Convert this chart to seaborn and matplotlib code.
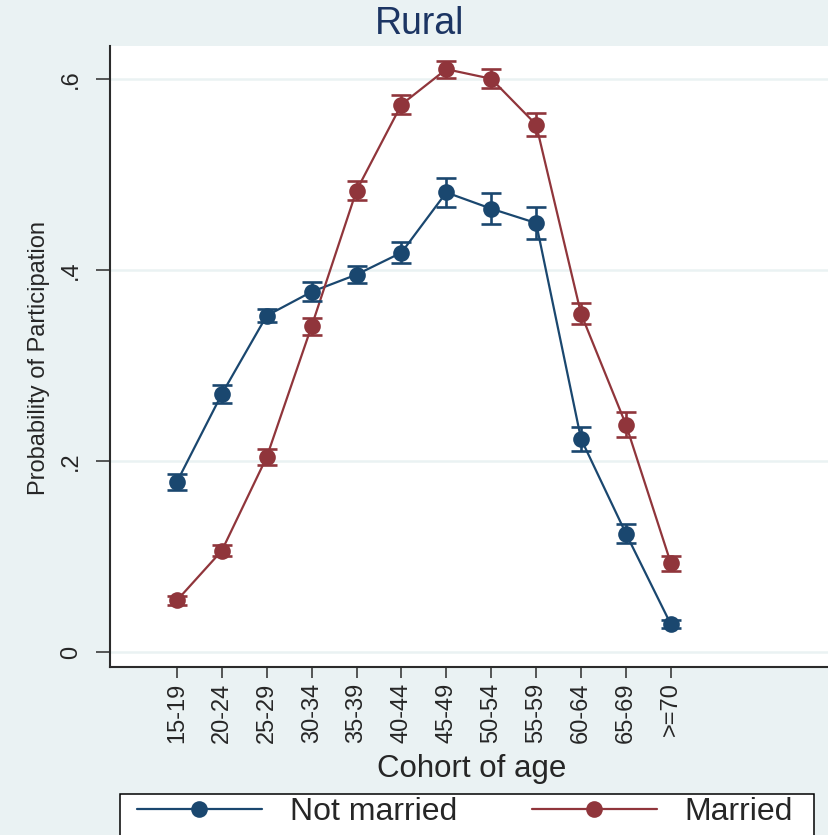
import matplotlib
matplotlib.use("Agg")
import matplotlib.pyplot as plt
from matplotlib.lines import Line2D
from matplotlib.patches import Rectangle
import numpy as np
import pandas as pd
import seaborn as sns

# ---- data -------------------------------------------------------------
cohorts = ["15-19", "20-24", "25-29", "30-34", "35-39", "40-44",
           "45-49", "50-54", "55-59", "60-64", "65-69", ">=70"]
groups = ["Not married", "Married"]

not_married = [0.178, 0.270, 0.352, 0.377, 0.395, 0.418,
               0.481, 0.464, 0.449, 0.223, 0.124, 0.029]
not_married_ci = [0.008, 0.009, 0.007, 0.010, 0.009, 0.011,
                  0.015, 0.016, 0.017, 0.013, 0.010, 0.004]

married = [0.054, 0.106, 0.204, 0.341, 0.483, 0.573,
           0.610, 0.600, 0.552, 0.354, 0.238, 0.093]
married_ci = [0.005, 0.006, 0.008, 0.009, 0.010, 0.010,
              0.009, 0.010, 0.012, 0.011, 0.013, 0.008]

y_ticks = [0.0, 0.2, 0.4, 0.6]
y_tick_labels = ["0", ".2", ".4", ".6"]

# ---- style ------------------------------------------------------------
sns.set_style("white")
plt.rcParams["font.family"] = ["Liberation Sans", "DejaVu Sans"]

NAVY = "#1a476f"
MAROON = "#90353b"
BG = "#eaf2f3"
AXC = "#2b2b2b"

df = pd.DataFrame({
    "pos": list(range(len(cohorts))) * 2,
    "cohort": cohorts * 2,
    "prob": not_married + married,
    "ci": not_married_ci + married_ci,
    "status": [groups[0]] * len(cohorts) + [groups[1]] * len(cohorts),
})

W, H = 829, 835
fig = plt.figure(figsize=(W / 100, H / 100), dpi=100, facecolor=BG)
ax = fig.add_axes([110 / W, 1 - 667 / H, 718 / W, (667 - 45.7) / H])
ax.set_facecolor("white")

palette = {groups[0]: NAVY, groups[1]: MAROON}

# grid lines
for yv in y_ticks:
    ax.axhline(yv, color=BG, lw=1.8, zorder=0)

sns.lineplot(data=df, x="pos", y="prob", hue="status", hue_order=groups,
             palette=palette, marker="o", markersize=12, markeredgewidth=0,
             linewidth=1.6, errorbar=None, legend=False, ax=ax, zorder=3)

for g in groups:
    sub = df[df["status"] == g]
    ax.errorbar(sub["pos"], sub["prob"], yerr=sub["ci"], fmt="none",
                ecolor=palette[g], elinewidth=1.9, capsize=7, capthick=1.9,
                zorder=4)

# ---- axes -------------------------------------------------------------
ax.set_xlim(-1.49, 14.5)
ax.set_ylim(-0.0157, 0.6346)

ax.set_xticks(range(len(cohorts)))
ax.set_xticklabels(cohorts, rotation=90, fontsize=17)
ax.set_yticks(y_ticks)
ax.set_yticklabels(y_tick_labels, fontsize=17)
for lab in ax.get_yticklabels():
    lab.set_rotation(90)
    lab.set_va("center")
    lab.set_ha("right")

ax.tick_params(axis="x", length=8, width=1.1, color=AXC, pad=3,
               direction="out", bottom=True)
ax.tick_params(axis="y", length=10, width=1.1, color=AXC, pad=10,
               direction="out", left=True)

for side in ["top", "right"]:
    ax.spines[side].set_visible(False)
for side in ["left", "bottom"]:
    ax.spines[side].set_color(AXC)
    ax.spines[side].set_linewidth(1.5)

ax.set_xlabel("Cohort of age", fontsize=22.5, va="top")
ax.xaxis.set_label_coords(0.504, (667 - 754) / (667 - 45.7))
ax.set_ylabel("Probability of Participation", fontsize=17)
ax.yaxis.set_label_coords((50 - 110) / 718, 0.4967)

fig.text(420 / W, 1 - 24 / H, "Rural", ha="center", va="center",
         fontsize=27, color="#1c3563")

# ---- legend -----------------------------------------------------------
fig.add_artist(Rectangle((120 / W, -0.05), (814 - 120) / W,
                         (835 - 794) / H + 0.05, transform=fig.transFigure,
                         facecolor="white", edgecolor="black", lw=1.1,
                         zorder=1))
handles = [Line2D([], [], color=palette[g], lw=1.6, marker="o",
                  markersize=12, markeredgewidth=0) for g in groups]
fig.legend(handles, groups, ncol=2, loc="center left",
           bbox_to_anchor=(137 / W, 1 - 812 / H), frameon=False,
           fontsize=23, handlelength=3.9, handletextpad=0.88,
           columnspacing=2.35, borderpad=0, borderaxespad=0, numpoints=1)

fig.savefig("out.png", dpi=100, facecolor=BG)
